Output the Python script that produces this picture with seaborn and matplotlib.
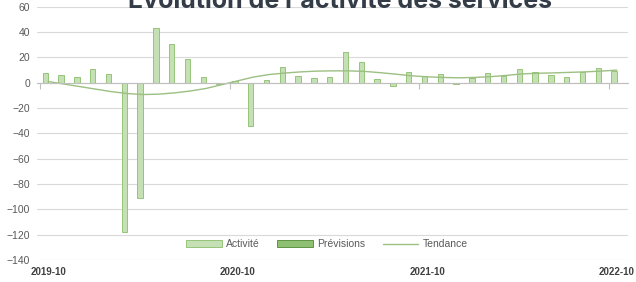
import numpy as np
import pandas as pd
import matplotlib.pyplot as plt
import seaborn as sns
from matplotlib.patches import Patch
from matplotlib.lines import Line2D

# données
mois = pd.period_range('2019-10', '2022-10', freq='M').strftime('%Y-%m').tolist()
activite = [7.4, 5.8, 4.7, 10.8, 6.6, -117.8, -90.9, 43, 31, 18.7,
            4.7, -1.0, 1.5, -34.5, 1.9, 12.4, 5.5, 3.7, 4.7, 24.5,
            16.6, 2.9, -2.3, 8.7, 5.5, 6.6, -0.8, 4.0, 7.9, 5.5,
            10.6, 8.7, 6.1, 4.7, 8.2, 11.9, 9.5]
previsions = [np.nan] * len(mois)
tendance = [1, -1, -3, -5, -7, -8.5, -9.3, -9, -8, -6.5,
            -4.5, -1.5, 1.5, 4.5, 6.5, 7.7, 8.6, 9.2, 9.4, 9.4,
            9, 8, 6.8, 5.5, 4.7, 4.2, 3.9, 4.2, 4.8, 5.8,
            7, 7.5, 7.8, 8.2, 8.6, 9.2, 10]
ticks_labels = ['2019-10', '2020-10', '2021-10', '2022-10']

c_act = '#c5e0b4'
c_act_edge = '#96c47a'
c_prev = '#8fbf72'
c_prev_edge = '#5f9444'
c_trend = '#9cbf82'
c_text = '#595959'
c_grid = '#d9d9d9'

sns.set_theme(style='white')
plt.rcParams['font.family'] = ['Liberation Sans', 'DejaVu Sans']

idx = list(range(len(mois)))
df = pd.DataFrame({
    'idx': idx * 2,
    'serie': ['Activité'] * len(mois) + ['Prévisions'] * len(mois),
    'valeur': activite + previsions,
})

fig = plt.figure(figsize=(6.36, 2.82), dpi=100)
ax = fig.add_axes([37 / 636, 1 - 260 / 282, (628 - 37) / 636, (260 - 6.8) / 282])

sns.barplot(data=df, x='idx', y='valeur', hue='serie', hue_order=['Activité', 'Prévisions'],
            palette=[c_act, c_prev], width=0.68, edgecolor=c_act_edge, linewidth=0.7,
            saturation=1, errorbar=None, legend=False, ax=ax)
sns.lineplot(x=idx, y=tendance, color=c_trend, linewidth=1.0, ax=ax)

ax.set_xlim(-0.70, 36.71)
ax.set_ylim(-140, 60)
ax.set_yticks(range(-140, 61, 20))
ax.yaxis.grid(True, color=c_grid, linewidth=0.8)
ax.set_axisbelow(True)
ax.tick_params(axis='y', length=0, pad=5, labelsize=7.5, labelcolor=c_text)
ax.set_xlabel('')
ax.set_ylabel('')

for s in ['top', 'right', 'left']:
    ax.spines[s].set_visible(False)
ax.spines['bottom'].set_position(('data', 0))
ax.spines['bottom'].set_color('#bfbfbf')
ax.spines['bottom'].set_linewidth(0.8)
ax.set_xticks([-0.5, 11.5, 23.5, 35.5])
ax.set_xticklabels([])
ax.tick_params(axis='x', bottom=True, length=4, width=0.8, color='#bfbfbf', direction='out')

sec = ax.secondary_xaxis('bottom')
sec.set_xticks([0, 12, 24, 36])
sec.set_xticklabels(ticks_labels)
sec.tick_params(length=0, pad=5, labelsize=7, labelcolor='#404040')
for lab in sec.get_xticklabels():
    lab.set_fontweight('bold')
sec.spines['bottom'].set_visible(False)

handles = [
    Patch(facecolor=c_act, edgecolor=c_act_edge, linewidth=0.7),
    Patch(facecolor=c_prev, edgecolor=c_prev_edge, linewidth=0.7),
    Line2D([0], [0], color=c_trend, linewidth=1.0),
]
leg = ax.legend(handles, ['Activité', 'Prévisions', 'Tendance'], loc='center',
                bbox_to_anchor=((327 - 37) / 591, (260 - 244) / 253.2),
                ncol=3, frameon=False, fontsize=7.5, handlelength=3.4, handleheight=0.6,
                handletextpad=0.4, columnspacing=1.7, borderaxespad=0)
for t in leg.get_texts():
    t.set_color(c_text)

fig.text(340 / 636, 1 - 8 / 282, "Évolution de l'activité des services", ha='center',
         va='baseline', fontsize=18, fontweight='bold', color='#333c47',
         family=['Inter', 'DejaVu Sans'])

fig.savefig('out.png', dpi=100)
